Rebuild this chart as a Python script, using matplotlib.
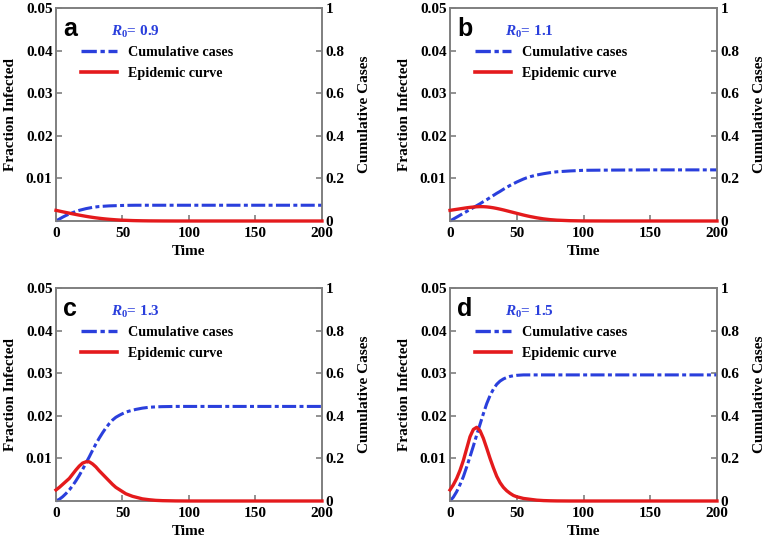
import matplotlib
matplotlib.use("Agg")
import matplotlib.pyplot as plt
from matplotlib.lines import Line2D

plt.rcParams["mathtext.fontset"] = "custom"
plt.rcParams["mathtext.rm"] = "Liberation Serif:bold"
plt.rcParams["mathtext.it"] = "Liberation Serif:italic:bold"
plt.rcParams["mathtext.bf"] = "Liberation Serif:bold"

time = [0, 2.5, 5, 7.5, 10, 12.5, 15, 17.5, 20, 22.5, 25, 27.5, 30, 32.5, 35, 37.5, 40,
        42.5, 45, 47.5, 50, 52.5, 55, 57.5, 60, 65, 70, 75, 80, 90, 100, 120, 150, 200]

panel_letters = ["a", "b", "c", "d"]
r0_values = ["0.9", "1.1", "1.3", "1.5"]

# Epidemic curve (fraction infected, left axis)
infected_a = [0.0025, 0.00233, 0.00216, 0.002, 0.00184, 0.00168, 0.00153, 0.00138, 0.00124,
              0.0011, 0.00097, 0.00085, 0.00074, 0.00064, 0.00055, 0.00047, 0.0004, 0.00034,
              0.00028, 0.00023, 0.00019, 0.00016, 0.00013, 0.0001, 0.00008, 0.00005, 0.00003,
              0.00002, 0.00001, 0, 0, 0, 0, 0]
infected_b = [0.0025, 0.00262, 0.00274, 0.00286, 0.00298, 0.0031, 0.0032, 0.00328, 0.00334,
              0.00337, 0.00336, 0.00331, 0.00322, 0.0031, 0.00295, 0.00278, 0.0026, 0.0024,
              0.0022, 0.002, 0.0018, 0.0016, 0.0014, 0.00122, 0.00105, 0.00075, 0.0005,
              0.00032, 0.0002, 0.00007, 0.00002, 0, 0, 0]
infected_c = [0.0026, 0.0032, 0.0039, 0.0046, 0.0053, 0.0063, 0.0073, 0.0082, 0.0089, 0.0092,
              0.0092, 0.0087, 0.008, 0.0071, 0.0063, 0.0055, 0.0047, 0.0039, 0.0032, 0.0027,
              0.0022, 0.0017, 0.0014, 0.0011, 0.0009, 0.0005, 0.0003, 0.00015, 0.00008,
              0.00002, 0, 0, 0, 0]
infected_d = [0.0026, 0.0038, 0.0053, 0.0072, 0.0095, 0.0123, 0.0151, 0.0168, 0.0173, 0.0165,
              0.0147, 0.0124, 0.01, 0.0078, 0.0058, 0.0043, 0.0032, 0.0024, 0.0018, 0.0013,
              0.001, 0.0008, 0.0006, 0.0005, 0.0004, 0.0002, 0.0001, 0.00005, 0.00002,
              0, 0, 0, 0, 0]

# Cumulative cases (right axis)
cumulative_a = [0, 0.009, 0.018, 0.026, 0.033, 0.039, 0.045, 0.05, 0.054, 0.058, 0.061, 0.064,
                0.066, 0.068, 0.069, 0.07, 0.071, 0.0715, 0.072, 0.0725, 0.073, 0.0733, 0.0736,
                0.0738, 0.074, 0.074, 0.074, 0.074, 0.074, 0.074, 0.074, 0.074, 0.074, 0.074]
cumulative_b = [0, 0.009, 0.018, 0.027, 0.036, 0.045, 0.054, 0.063, 0.072, 0.081, 0.091, 0.1,
                0.11, 0.12, 0.13, 0.139, 0.149, 0.158, 0.167, 0.175, 0.183, 0.19, 0.197, 0.203,
                0.208, 0.216, 0.222, 0.227, 0.231, 0.235, 0.238, 0.239, 0.24, 0.24]
cumulative_c = [0, 0.008, 0.02, 0.035, 0.052, 0.072, 0.095, 0.12, 0.148, 0.178, 0.207, 0.238,
                0.268, 0.295, 0.32, 0.343, 0.363, 0.38, 0.393, 0.402, 0.41, 0.417, 0.422, 0.426,
                0.43, 0.436, 0.44, 0.442, 0.443, 0.444, 0.444, 0.444, 0.444, 0.444]
cumulative_d = [0, 0.018, 0.044, 0.077, 0.114, 0.16, 0.208, 0.258, 0.31, 0.36, 0.41, 0.457,
                0.495, 0.525, 0.548, 0.563, 0.573, 0.58, 0.585, 0.588, 0.59, 0.591, 0.592,
                0.592, 0.592, 0.592, 0.592, 0.592, 0.592, 0.592, 0.592, 0.592, 0.592, 0.592]

infected = [infected_a, infected_b, infected_c, infected_d]
cumulative = [cumulative_a, cumulative_b, cumulative_c, cumulative_d]

left_ticks = [0.01, 0.02, 0.03, 0.04, 0.05]
left_labels = ["0.01", "0.02", "0.03", "0.04", "0.05"]
right_ticks = [0, 0.2, 0.4, 0.6, 0.8, 1.0]
right_labels = ["0", "0.2", "0.4", "0.6", "0.8", "1"]
x_ticks = [0, 50, 100, 150, 200]
x_labels = ["0", "50", "100", "150", "200"]

BLUE = "#2a3fdc"
RED = "#e41a1c"
GRAY = "#7f7f7f"
SERIF = "Liberation Serif"
DASH = (4.6, 1.1, 1.3, 1.1)

W, H = 767, 544
fig = plt.figure(figsize=(W / 100, H / 100), dpi=100)

# axes boxes in pixels: (left, top, right, bottom)
boxes = [(56, 8, 322, 221), (450, 8, 717, 221), (56, 288, 322, 501), (450, 288, 717, 501)]

for i in range(4):
    l, t, r, b = boxes[i]
    ax = fig.add_axes([l / W, 1 - b / H, (r - l) / W, (b - t) / H])
    ax2 = ax.twinx()
    ax.set_zorder(ax2.get_zorder() + 1)
    ax.patch.set_visible(False)

    ax2.plot(time, cumulative[i], color=BLUE, lw=2.2, dashes=DASH, clip_on=False, zorder=3)
    ax.plot(time, infected[i], color=RED, lw=2.4, clip_on=False, zorder=3)

    ax.set_xlim(0, 200)
    ax.set_ylim(0, 0.05)
    ax2.set_ylim(0, 1)

    ax.set_xticks(x_ticks)
    ax.set_xticklabels(x_labels)
    ax.set_yticks(left_ticks)
    ax.set_yticklabels(left_labels)
    ax2.set_yticks(right_ticks)
    ax2.set_yticklabels(right_labels)

    for a in (ax, ax2):
        for s in a.spines.values():
            s.set_color(GRAY)
            s.set_linewidth(1.2)
        a.tick_params(direction="in", length=4, width=1.2, color=GRAY, pad=2.5)
        for lab in a.get_xticklabels() + a.get_yticklabels():
            lab.set_fontfamily(SERIF)
            lab.set_fontweight("bold")
            lab.set_fontsize(11)
    ax.tick_params(axis="x", top=False, pad=4.5)

    ax.set_xlabel("Time", fontfamily=SERIF, fontweight="bold", fontsize=11, labelpad=3.5)
    ax.set_ylabel("Fraction Infected", fontfamily=SERIF, fontweight="bold", fontsize=11, labelpad=6)
    ax2.set_ylabel("Cumulative Cases", fontfamily=SERIF, fontweight="bold", fontsize=11, labelpad=9.5)

    ax.text(0.028, 0.9, panel_letters[i], transform=ax.transAxes, fontfamily="Liberation Sans",
            fontweight="bold", fontsize=18, va="center", ha="left")
    ax.text(0.205, 0.887, r"$R_0$= " + r0_values[i], transform=ax.transAxes,
            fontfamily=SERIF, fontweight="bold", fontsize=11, color=BLUE, va="center", ha="left")

    h1 = Line2D([], [], color=BLUE, lw=2.4, dashes=DASH)
    h2 = Line2D([], [], color=RED, lw=2.6)
    ax.legend([h1, h2], ["Cumulative cases", "Epidemic curve"], loc="upper left",
              bbox_to_anchor=(0.094, 0.82), borderaxespad=0, borderpad=0, frameon=False,
              handlelength=2.55, handletextpad=0.75, labelspacing=0.54,
              prop={"family": SERIF, "weight": "bold", "size": 10.2})

fig.savefig("out.png", dpi=100)
